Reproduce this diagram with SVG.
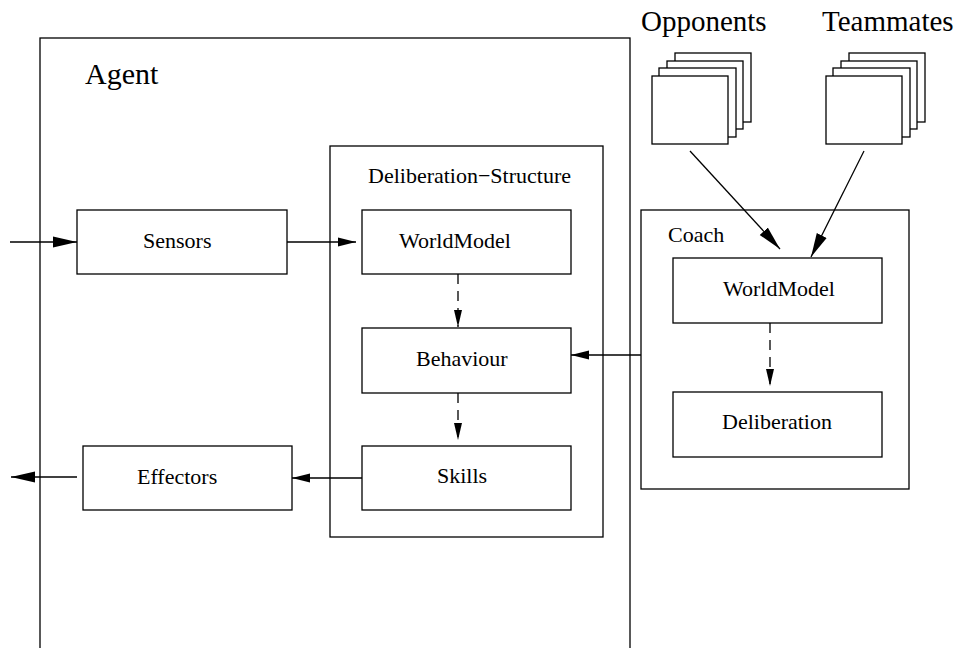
<svg xmlns="http://www.w3.org/2000/svg" width="960" height="648" viewBox="0 0 960 648">
<defs>
<style>
rect{fill:#fff;stroke:#000;stroke-width:1.3}
.f{fill:none}
text{font-family:"Liberation Serif","Times New Roman",serif;fill:#000;font-size:22px}
.big{font-size:29px}
.ag{font-size:30px}
line{stroke:#000;stroke-width:1.3}
.d{stroke-dasharray:10,7}
</style>
<marker id="ab" markerUnits="userSpaceOnUse" markerWidth="26" markerHeight="14" refX="24" refY="6" orient="auto">
<path d="M0,0.5 L24,6 L0,11.5 z" fill="#000"/>
</marker>
<marker id="as" markerUnits="userSpaceOnUse" markerWidth="20" markerHeight="12" refX="18" refY="5" orient="auto">
<path d="M0,0.5 L18,5 L0,9.5 z" fill="#000"/>
</marker>
<marker id="ad" markerUnits="userSpaceOnUse" markerWidth="20" markerHeight="12" refX="17" refY="4.5" orient="auto">
<path d="M0,0.5 L17,4.5 L0,8.5 z" fill="#000"/>
</marker>
<marker id="ac" markerUnits="userSpaceOnUse" markerWidth="26" markerHeight="14" refX="24" refY="6" orient="auto">
<path d="M0,0.5 L24,6 L0,11.5 z" fill="#000"/>
</marker>
</defs>
<g id="agent">
<rect class="f" x="40" y="38" width="590" height="640"/>
<text class="ag" x="85" y="84">Agent</text>
</g>
<g id="delib-structure">
<rect class="f" x="330" y="146" width="273" height="391"/>
<text x="368" y="183">Deliberation−Structure</text>
</g>
<g id="coach">
<rect class="f" x="641" y="210" width="268" height="279"/>
<text x="668" y="242">Coach</text>
</g>
<g id="opponents">
<rect x="675" y="53" width="76" height="69"/>
<rect x="667" y="61" width="76" height="68"/>
<rect x="659" y="68" width="77" height="69"/>
<rect x="652" y="76" width="76" height="68"/>
<text class="big" x="641" y="31">Opponents</text>
</g>
<g id="teammates">
<rect x="849" y="53" width="76" height="69"/>
<rect x="841" y="61" width="76" height="68"/>
<rect x="833" y="68" width="77" height="69"/>
<rect x="826" y="76" width="76" height="68"/>
<text class="big" x="822" y="31">Teammates</text>
</g>
<g id="sensors">
<rect x="77" y="210" width="210" height="64"/>
<text x="143" y="248">Sensors</text>
</g>
<g id="effectors">
<rect x="83" y="446" width="209" height="64"/>
<text x="137" y="484">Effectors</text>
</g>
<g id="worldmodel">
<rect x="362" y="210" width="209" height="64"/>
<text x="399" y="248">WorldModel</text>
</g>
<g id="behaviour">
<rect x="362" y="328" width="209" height="65"/>
<text x="416" y="366">Behaviour</text>
</g>
<g id="skills">
<rect x="362" y="446" width="209" height="64"/>
<text x="437" y="483">Skills</text>
</g>
<g id="coach-worldmodel">
<rect x="673" y="258" width="209" height="65"/>
<text x="723" y="296">WorldModel</text>
</g>
<g id="coach-deliberation">
<rect x="673" y="392" width="209" height="65"/>
<text x="722" y="429">Deliberation</text>
</g>
<g id="connectors">
<line x1="10" y1="242" x2="77" y2="242" marker-end="url(#ab)"/>
<line x1="287" y1="242" x2="356" y2="242" marker-end="url(#as)"/>
<line class="d" x1="458" y1="274" x2="458" y2="327" marker-end="url(#ad)"/>
<line class="d" x1="458" y1="393" x2="458" y2="440" marker-end="url(#ad)"/>
<line x1="362" y1="478" x2="292" y2="478" marker-end="url(#as)"/>
<line x1="77" y1="477" x2="11" y2="477" marker-end="url(#ab)"/>
<line x1="641" y1="355" x2="571" y2="355" marker-end="url(#as)"/>
<line class="d" x1="770" y1="323" x2="770" y2="386" marker-end="url(#ad)"/>
<line x1="690" y1="151" x2="780" y2="249" marker-end="url(#ac)"/>
<line x1="864" y1="151" x2="811" y2="257" marker-end="url(#ac)"/>
</g>
</svg>
